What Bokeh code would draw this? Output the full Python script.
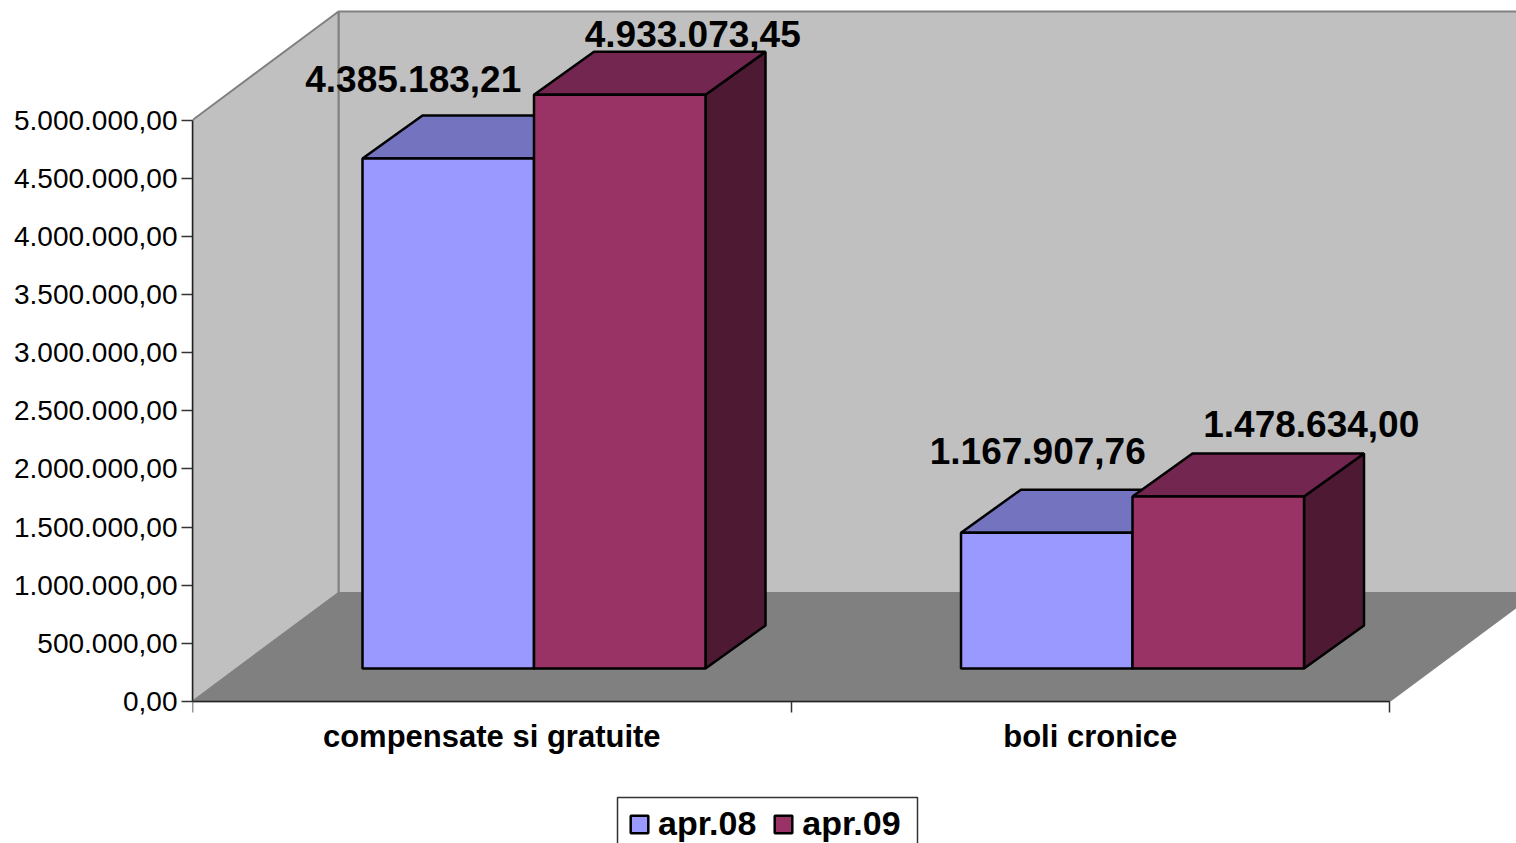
from bokeh.embed import file_html
from bokeh.resources import INLINE
from bokeh.models import FixedTicker, Legend, LegendItem, ColumnDataSource
from bokeh.plotting import figure
from bokeh.core.properties import value

categories = ["compensate si gratuite", "boli cronice"]
series_names = ["apr.08", "apr.09"]
apr_08 = [4385183.21, 1167907.76]
apr_09 = [4933073.45, 1478634.00]
y_ticks = [0, 500000, 1000000, 1500000, 2000000, 2500000, 3000000, 3500000, 4000000, 4500000, 5000000]
y_tick_labels = ["0,00", "500.000,00", "1.000.000,00", "1.500.000,00", "2.000.000,00", "2.500.000,00",
                 "3.000.000,00", "3.500.000,00", "4.000.000,00", "4.500.000,00", "5.000.000,00"]

# Canvas layout and the pixel scale of both data axes
WIDTH, HEIGHT = 1516, 843
LEFT, BASE = 192, 701
PX_PER_CAT = 598.5
PX_PER_UNIT = 116.3 / 1e6


def cx(px):
    return px / PX_PER_CAT


def vy(px):
    return px / PX_PER_UNIT


FONT = "Liberation Sans"
WALL_DX, WALL_DY = cx(146), vy(108.5)    # oblique offset of the back wall
BAR_DX, BAR_DY = cx(60), vy(43)          # oblique depth of a bar
BAR_LIFT = vy(33)                        # height of the bars' front plane over the axis
BAR_START = cx(170)
BAR_W = cx(171.5)
Y_TOP = 5000000

# The frame runs to the bottom of the canvas so the legend can sit under the axis
p = figure(width=WIDTH, height=HEIGHT, output_backend="svg", toolbar_location=None,
           x_range=(0, (WIDTH - LEFT) / PX_PER_CAT),
           y_range=(-(HEIGHT - BASE) / PX_PER_UNIT, BASE / PX_PER_UNIT),
           min_border_left=LEFT, min_border_right=0, min_border_top=0,
           min_border_bottom=0, outline_line_color=None,
           background_fill_color="white", border_fill_color="white")
p.grid.visible = False

# Back wall, side wall and floor of the 3D box
WALL = "#C0C0C0"
EDGE = "#808080"
p.patch([WALL_DX, 2 + WALL_DX, 2 + WALL_DX, WALL_DX],
        [WALL_DY, WALL_DY, Y_TOP + WALL_DY, Y_TOP + WALL_DY],
        fill_color=WALL, line_color=EDGE, line_width=2)
p.patch([0, WALL_DX, WALL_DX, 0], [0, WALL_DY, Y_TOP + WALL_DY, Y_TOP],
        fill_color=WALL, line_color=EDGE, line_width=2)
p.patch([0, 2, 2 + WALL_DX, WALL_DX], [0, 0, WALL_DY, WALL_DY],
        fill_color="#808080", line_color=EDGE, line_width=1.5)

# One oblique column per value: side face, top face, then the front face
STROKE = dict(line_color="black", line_width=2.5)
series = [
    (apr_08, 0, "#9999FF", "#7373BF", "#4D4D80"),
    (apr_09, 1, "#993366", "#732650", "#4D1933"),
]
legend_items = []
for values, slot, front, top, side in series:
    x0 = [i + BAR_START + slot * BAR_W for i in range(len(values))]
    x1 = [x + BAR_W for x in x0]
    y0 = [BAR_LIFT] * len(values)
    y1 = [v + BAR_LIFT for v in values]
    p.patches([[a, a + BAR_DX, a + BAR_DX, a] for a in x1],
              [[b, b + BAR_DY, t + BAR_DY, t] for b, t in zip(y0, y1)],
              fill_color=side, **STROKE)
    p.patches([[a, a + BAR_DX, b + BAR_DX, b] for a, b in zip(x0, x1)],
              [[t, t + BAR_DY, t + BAR_DY, t] for t in y1],
              fill_color=top, **STROKE)
    r = p.quad(left=x0, right=x1, bottom=y0, top=y1, fill_color=front, **STROKE)
    legend_items.append(LegendItem(label=series_names[slot], renderers=[r]))


def fmt(v):
    return f"{v:,.2f}".replace(",", " ").replace(".", ",").replace(" ", ".")


# Value captions, hand-placed around each column
offsets = {0: [(-35, -80), (-9, -82)], 1: [(73, -61), (93, -73)]}
for values, slot, *_ in series:
    src = ColumnDataSource(dict(
        x=[i + BAR_START + (slot + 0.5) * BAR_W for i in range(len(values))],
        y=[v + BAR_LIFT for v in values],
        t=[fmt(v) for v in values],
        dx=[o[0] for o in offsets[slot]],
        dy=[o[1] for o in offsets[slot]],
    ))
    p.text(x="x", y="y", text="t", x_offset="dx", y_offset="dy", source=src,
           text_align="center", text_baseline="middle", text_color="black",
           text_font=value(FONT), text_font_style="bold", text_font_size="37px")

# Value axis
ya = p.yaxis[0]
ya.ticker = FixedTicker(ticks=y_ticks)
ya.major_label_overrides = dict(zip(y_ticks, y_tick_labels))
ya.bounds = (0, Y_TOP)
ya.major_tick_out = 11
ya.major_tick_in = 0
ya.minor_tick_line_color = None
ya.major_label_standoff = 4
ya.major_label_text_font = FONT
ya.major_label_text_font_size = "28px"
ya.major_label_text_color = "black"
ya.axis_line_color = "#222222"
ya.axis_line_width = 1.5
ya.major_tick_line_color = "#333333"
ya.major_tick_line_width = 1.5

# Category axis pinned at zero: labels centred in each band, ticks on the band edges
xa = p.xaxis[0]
xa.fixed_location = 0
xa.ticker = FixedTicker(ticks=[0.5, 1.5], minor_ticks=[0, 1, 2])
xa.major_label_overrides = {0.5: categories[0], 1.5: categories[1]}
xa.bounds = (0, 2)
xa.major_tick_out = 0
xa.major_tick_in = 0
xa.minor_tick_out = 11
xa.minor_tick_in = 0
xa.minor_tick_line_color = "#333333"
xa.minor_tick_line_width = 1.5
xa.major_label_standoff = 6
xa.major_label_text_font = FONT
xa.major_label_text_font_style = "bold"
xa.major_label_text_font_size = "31px"
xa.major_label_text_color = "black"
xa.axis_line_color = "#222222"
xa.axis_line_width = 1.5

# Legend frame, running off the bottom of the canvas
p.quad(left=[cx(617 - LEFT)], right=[cx(917 - LEFT)], top=[vy(BASE - 797)], bottom=[vy(BASE - 870)],
       fill_color="white", line_color="#333333", line_width=1.5)

legend = Legend(items=legend_items, orientation="horizontal", location=(628 - LEFT, 0),
                glyph_width=22, glyph_height=22, label_standoff=8, spacing=16,
                padding=0, margin=0, border_line_color=None, background_fill_alpha=0,
                label_text_font=FONT, label_text_font_style="bold", label_text_font_size="34px",
                label_text_color="black")
p.add_layout(legend, "center")

open("out.html", "w").write(file_html(p, INLINE))
